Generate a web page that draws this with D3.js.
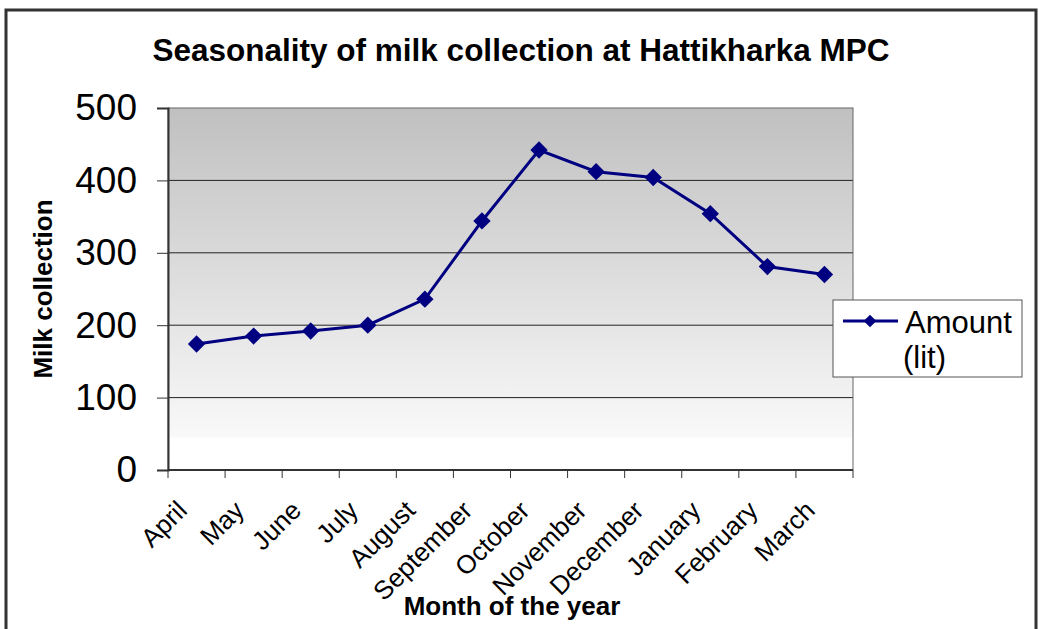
<!DOCTYPE html>
<meta charset="utf-8">
<script src="https://d3js.org/d3.v7.min.js"></script>
<style>
body { margin: 0; background: #fff; }
text { font-family: "Liberation Sans", Arial, sans-serif; fill: #000; }
</style>
<div id="main"></div>
<script>
// data
const months = ["April", "May", "June", "July", "August", "September",
                "October", "November", "December", "January", "February", "March"];
const amount = [174, 185, 192, 200, 236, 344, 442, 412, 404, 354, 281, 270];
const yTicks = [0, 100, 200, 300, 400, 500];
const seriesName = ["Amount", "(lit)"];

const W = 1039, H = 629;
const margin = {top: 108, right: 186, bottom: 159, left: 168},
    width = W - margin.left - margin.right,
    height = H - margin.top - margin.bottom;

const svg = d3.select("#main").append("svg")
    .attr("width", W)
    .attr("height", H);

// outer chart border
svg.append("rect")
    .attr("x", 6).attr("y", 10)
    .attr("width", 1030).attr("height", 640)
    .attr("fill", "#fff")
    .attr("stroke", "#333")
    .attr("stroke-width", 3);

svg.append("text")
    .attr("x", 521).attr("y", 61)
    .attr("text-anchor", "middle")
    .attr("font-size", 31.5)
    .attr("font-weight", "bold")
    .text("Seasonality of milk collection at Hattikharka MPC");

const x = d3.scaleBand().domain(months).range([0, width]);
const y = d3.scaleLinear().domain([0, 500]).range([height, 0]);

const g = svg.append("g")
    .attr("transform", "translate(" + margin.left + "," + margin.top + ")");

const grad = svg.append("defs").append("linearGradient")
    .attr("id", "bg").attr("x1", 0).attr("y1", 0).attr("x2", 0).attr("y2", 1);
grad.append("stop").attr("offset", "0%").attr("stop-color", "#c0c0c0");
grad.append("stop").attr("offset", "100%").attr("stop-color", "#f9f9f9");

// plot background: gradient stops a bit above the x axis, like the original
g.append("rect")
    .attr("width", width).attr("height", y(45))
    .attr("fill", "url(#bg)");

g.selectAll(".grid")
    .data(yTicks.filter(d => d > 0 && d < 500))
    .enter().append("line")
    .attr("x1", 0).attr("x2", width)
    .attr("y1", d => y(d)).attr("y2", d => y(d))
    .attr("stroke", "#222");

g.append("rect")
    .attr("width", width).attr("height", height)
    .attr("fill", "none")
    .attr("stroke", "#666");

// y axis
const yAxis = g.append("g")
    .call(d3.axisLeft(y).tickValues(yTicks).tickSize(11).tickPadding(20));
yAxis.select(".domain").attr("stroke", "#333").attr("stroke-width", 2);
yAxis.selectAll(".tick line").attr("stroke", "#333");
yAxis.selectAll("text")
    .attr("font-size", 37)
    .attr("font-family", "Liberation Sans, Arial, sans-serif")
    .attr("fill", "#000");

// x axis: ticks on category boundaries
const xAxis = g.append("g")
    .attr("transform", "translate(0," + height + ")");
xAxis.append("line")
    .attr("x1", 0).attr("x2", width)
    .attr("stroke", "#333").attr("stroke-width", 2);
xAxis.selectAll(".xt")
    .data(months.concat(["end"]))
    .enter().append("line")
    .attr("x1", (d, i) => i * x.bandwidth())
    .attr("x2", (d, i) => i * x.bandwidth())
    .attr("y1", 0).attr("y2", 8)
    .attr("stroke", "#333");
xAxis.selectAll(".xl")
    .data(months)
    .enter().append("text")
    .attr("transform", d => "translate(" + (x(d) + x.bandwidth() / 2 - 8) + ",42) rotate(-45)")
    .attr("text-anchor", "end")
    .attr("font-size", 26)
    .text(d => d);

// series
const line = d3.line()
    .x((d, i) => x(months[i]) + x.bandwidth() / 2)
    .y(d => y(d));

g.append("path")
    .datum(amount)
    .attr("d", line)
    .attr("fill", "none")
    .attr("stroke", "#000080")
    .attr("stroke-width", 3);

const diamond = d3.symbol(d3.symbolSquare, 150);
g.selectAll(".pt")
    .data(amount)
    .enter().append("path")
    .attr("d", diamond)
    .attr("transform", (d, i) => "translate(" + (x(months[i]) + x.bandwidth() / 2) + "," + y(d) + ") rotate(45)")
    .attr("fill", "#000080");

// axis titles
svg.append("text")
    .attr("transform", "translate(52,289) rotate(-90)")
    .attr("text-anchor", "middle")
    .attr("font-size", 26)
    .attr("font-weight", "bold")
    .text("Milk collection");

svg.append("text")
    .attr("x", 512).attr("y", 615)
    .attr("text-anchor", "middle")
    .attr("font-size", 26)
    .attr("font-weight", "bold")
    .text("Month of the year");

// legend
const legend = svg.append("g").attr("transform", "translate(833,300)");
legend.append("rect")
    .attr("width", 189).attr("height", 77)
    .attr("fill", "#fff")
    .attr("stroke", "#555");
legend.append("line")
    .attr("x1", 10).attr("x2", 65)
    .attr("y1", 21).attr("y2", 21)
    .attr("stroke", "#000080").attr("stroke-width", 3);
legend.append("path")
    .attr("d", d3.symbol(d3.symbolSquare, 80))
    .attr("transform", "translate(37,21) rotate(45)")
    .attr("fill", "#000080");
legend.selectAll(".lt")
    .data(seriesName)
    .enter().append("text")
    .attr("x", (d, i) => i ? 70 : 72)
    .attr("y", (d, i) => 33 + i * 35)
    .attr("font-size", 31)
    .text(d => d);
</script>
